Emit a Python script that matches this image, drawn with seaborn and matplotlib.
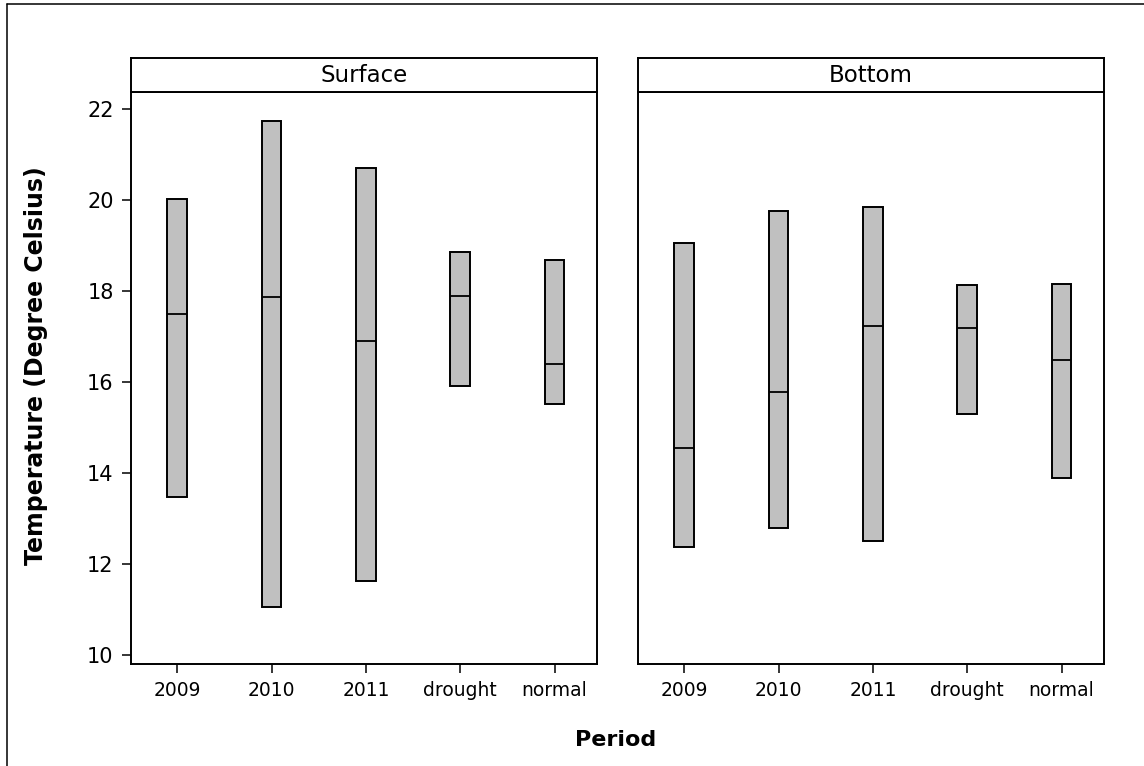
import numpy as np
import pandas as pd
import matplotlib
matplotlib.use("Agg")
import matplotlib.pyplot as plt
import seaborn as sns
from matplotlib.lines import Line2D

# ---- data ----
periods = ["2009", "2010", "2011", "drought", "normal"]
panels = ["Surface", "Bottom"]
surface_q1 = [13.48, 11.06, 11.62, 15.92, 15.52]
surface_median = [17.50, 17.86, 16.89, 17.89, 16.40]
surface_q3 = [20.01, 21.74, 20.71, 18.86, 18.68]
bottom_q1 = [12.37, 12.78, 12.51, 15.29, 13.88]
bottom_median = [14.54, 15.77, 17.23, 17.18, 16.48]
bottom_q3 = [19.05, 19.75, 19.84, 18.12, 18.16]
y_ticks = [10, 12, 14, 16, 18, 20, 22]

stats = {
    "Surface": (surface_q1, surface_median, surface_q3),
    "Bottom": (bottom_q1, bottom_median, bottom_q3),
}

# long table: each box is described by Q1, Q1, median, Q3, Q3 so that the
# quartiles computed by seaborn equal the values
rows = []
for panel in panels:
    q1s, meds, q3s = stats[panel]
    for p, a, m, b in zip(periods, q1s, meds, q3s):
        for v in (a, a, m, b, b):
            rows.append({"Location": panel, "Period": p, "Temperature": v})
df = pd.DataFrame(rows)

sns.set_theme(style="white")
plt.rcParams["font.family"] = ["DejaVu Sans"]

W, H = 1144, 766
fig = plt.figure(figsize=(W / 100, H / 100), dpi=100)

def fx(px):
    return px / W

def fy(py):
    return 1 - py / H

ax_left, ax_right, ax_top, ax_bot = [131, 638], 466, 92, 664
strip_top = 58

axes = []
for i, panel in enumerate(panels):
    x0 = ax_left[i]
    ax = fig.add_axes([fx(x0), fy(ax_bot), ax_right / W, (ax_bot - ax_top) / H])
    sub = df[df["Location"] == panel]
    sns.boxplot(data=sub, x="Period", y="Temperature", order=periods, ax=ax,
                color="#C0C0C0", saturation=1, width=0.21, whis=0,
                showcaps=False, showfliers=False, linecolor="black",
                linewidth=1.4,
                medianprops={"color": "black", "linewidth": 1.3})
    ax.set_ylim(9.80, 22.37)
    ax.set_xlim(-0.49, 4.45)
    ax.set_xlabel("")
    ax.set_ylabel("")
    for s in ax.spines.values():
        s.set_visible(True)
        s.set_color("black")
        s.set_linewidth(1.4)
    ax.tick_params(axis="x", direction="out", length=6.5, width=1.1,
                   color="black", labelsize=13.5, pad=6, bottom=True)
    if i == 0:
        ax.set_yticks(y_ticks)
        ax.tick_params(axis="y", direction="out", length=6.5, width=1.1,
                       color="black", labelsize=15, pad=6, left=True)
    else:
        ax.set_yticks(y_ticks)
        ax.tick_params(axis="y", left=False, labelleft=False)
    for lab in ax.get_xticklabels() + ax.get_yticklabels():
        lab.set_color("black")
    # strip header
    sax = fig.add_axes([fx(x0), fy(ax_top), ax_right / W, (ax_top - strip_top) / H])
    sax.set_xticks([])
    sax.set_yticks([])
    for s in sax.spines.values():
        s.set_visible(True)
        s.set_color("black")
        s.set_linewidth(1.4)
    sax.text(0.5, 0.5, panel, ha="center", va="center", fontsize=16.5,
             color="black", transform=sax.transAxes)
    axes.append(ax)

fig.text(fx(36), fy(366), "Temperature (Degree Celsius)", rotation=90,
         ha="center", va="center", fontsize=17, fontweight="bold", color="black")
fig.text(fx(616), fy(740), "Period", ha="center", va="center",
         fontsize=16, fontweight="bold", color="black")

# outer frame (only the top and left edges fall inside the picture)
fig.add_artist(Line2D([fx(7), 1.0], [fy(4), fy(4)], color="black", lw=1.1,
                      transform=fig.transFigure))
fig.add_artist(Line2D([fx(7), fx(7)], [fy(4), 0.0], color="black", lw=1.1,
                      transform=fig.transFigure))

fig.savefig("out.png", dpi=100)
